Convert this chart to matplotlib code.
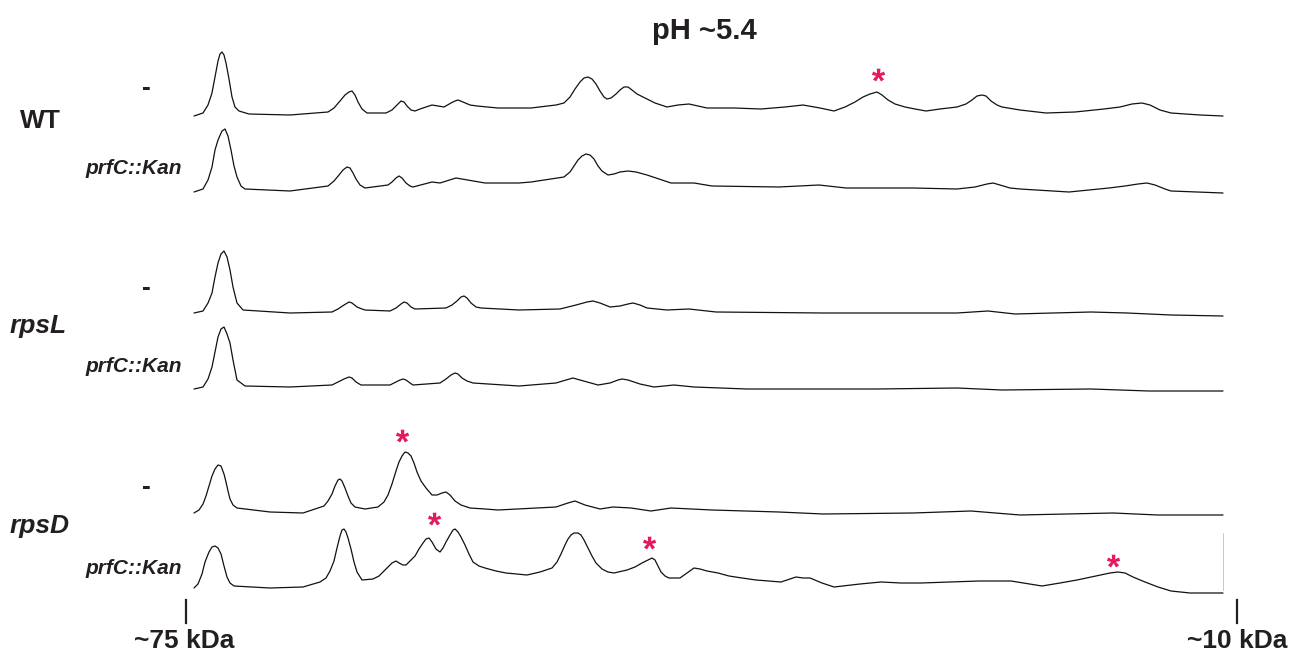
import numpy as np
import matplotlib; matplotlib.use("Agg")
import matplotlib.pyplot as plt
from matplotlib.textpath import TextPath
from matplotlib.font_manager import FontProperties
from matplotlib.path import Path

# densitometry traces: migration position (px along the lane) and band density
LANES = ["-", "prfC::Kan", "-", "prfC::Kan", "-", "prfC::Kan"]
STRAINS = ["WT", "rpsL", "rpsD"]

wt_x = [194, 203, 208, 212, 215, 218, 220, 222, 224, 226, 229, 232, 235, 239, 249, 290, 328, 334, 340, 345,
        349, 352, 355, 358, 362, 367, 386, 392, 397, 401, 404, 407, 411, 415, 420, 426, 432, 438, 444, 451,
        455, 458, 463, 470, 477, 498, 531, 556, 564, 570, 575, 580, 584, 588, 592, 596, 600, 604, 607, 611,
        616, 620, 624, 628, 632, 637, 645, 655, 667, 678, 689, 698, 707, 734, 761, 785, 803, 820, 834, 845,
        855, 863, 870, 877, 882, 888, 895, 905, 915, 926, 940, 957, 966, 972, 977, 982, 986, 991, 997, 1002,
        1020, 1046, 1075, 1104, 1120, 1132, 1142, 1150, 1160, 1171, 1200, 1223]
wt_d = [1, 4, 12, 24, 40, 56, 63, 65, 62, 54, 38, 20, 10, 6, 3, 2, 5, 9, 16, 22,
        25, 26, 22, 15, 8, 4, 4, 7, 12, 16, 15, 11, 7, 6, 8, 10, 12, 11, 10, 14,
        16, 17, 15, 12, 11, 9, 9, 12, 14, 20, 28, 35, 39, 40, 38, 33, 26, 20, 18, 19,
        23, 27, 30, 30, 27, 23, 19, 14, 10, 12, 13, 11, 9, 9, 8, 10, 12, 9, 6, 10,
        15, 20, 23, 25, 22, 17, 13, 10, 8, 6, 8, 10, 13, 17, 21, 22, 21, 16, 12, 10,
        7, 4, 5, 8, 10, 13, 14, 12, 7, 4, 2, 1]

wtk_x = [194, 203, 208, 212, 215, 218, 222, 225, 228, 231, 234, 237, 241, 245, 290, 328, 334, 339, 343, 347,
         350, 353, 356, 360, 365, 388, 392, 396, 399, 402, 406, 410, 413, 432, 440, 456, 485, 519, 531, 564,
         570, 574, 578, 582, 586, 590, 594, 598, 602, 608, 614, 620, 628, 636, 647, 671, 694, 712, 779, 819,
         846, 913, 957, 975, 987, 993, 1000, 1010, 1020, 1069, 1109, 1125, 1138, 1147, 1155, 1165, 1171, 1223]
wtk_d = [2, 5, 14, 27, 44, 54, 63, 65, 58, 44, 28, 17, 8, 5, 3, 8, 13, 19, 24, 27,
         26, 21, 15, 9, 6, 9, 12, 16, 18, 16, 11, 8, 7, 12, 11, 16, 11, 11, 12, 17,
         22, 28, 34, 38, 40, 39, 35, 28, 23, 19, 20, 22, 23, 22, 19, 11, 11, 8, 7, 9,
         6, 6, 5, 7, 10, 11, 9, 6, 5, 2, 6, 8, 10, 11, 9, 5, 3, 1]

rl_x = [194, 203, 208, 212, 215, 218, 221, 224, 227, 230, 233, 237, 243, 290, 332, 338, 344, 349, 352, 357,
        362, 365, 390, 396, 401, 404, 407, 411, 415, 446, 452, 457, 461, 464, 467, 471, 476, 481, 519, 560,
        576, 587, 593, 600, 610, 620, 628, 633, 640, 647, 667, 689, 716, 823, 957, 988, 1015, 1091, 1127,
        1171, 1223]
rl_d = [4, 6, 14, 24, 40, 54, 63, 66, 60, 47, 30, 14, 7, 4, 5, 8, 12, 15, 14, 10,
        8, 7, 6, 9, 13, 15, 14, 10, 8, 9, 12, 16, 20, 21, 19, 14, 10, 9, 7, 8,
        12, 15, 16, 14, 10, 11, 13, 14, 12, 9, 7, 8, 5, 4, 4, 6, 3, 5, 4,
        2, 1]

rlk_x = [194, 203, 208, 212, 215, 218, 221, 224, 227, 230, 233, 237, 245, 290, 332, 338, 344, 349, 352, 356,
         361, 390, 396, 400, 403, 406, 410, 413, 440, 446, 451, 455, 458, 462, 467, 473, 519, 556, 566, 573,
         580, 598, 610, 618, 622, 628, 640, 654, 674, 694, 747, 877, 957, 1002, 1091, 1149, 1223]
rlk_d = [3, 5, 13, 25, 40, 55, 63, 65, 58, 49, 32, 12, 6, 5, 7, 10, 13, 15, 14, 10,
         7, 7, 10, 12, 13, 12, 9, 7, 9, 13, 17, 19, 18, 14, 11, 9, 6, 9, 12, 14,
         12, 7, 9, 12, 13, 12, 8, 5, 7, 5, 3, 3, 4, 2, 3, 1, 1]

rd_x = [194, 199, 203, 206, 209, 212, 215, 218, 221, 224, 226, 228, 230, 233, 237, 270, 303, 324, 328, 332,
        335, 338, 340, 342, 345, 348, 351, 355, 365, 378, 384, 388, 392, 396, 399, 402, 405, 408, 411, 414,
        417, 421, 426, 432, 437, 442, 446, 450, 455, 461, 470, 485, 498, 556, 568, 575, 585, 600, 613, 631,
        651, 671, 712, 779, 823, 913, 971, 1020, 1113, 1158, 1223]
rd_d = [3, 6, 12, 20, 30, 40, 47, 51, 50, 42, 34, 25, 17, 11, 8, 4, 3, 10, 15, 22,
        30, 36, 37, 35, 28, 20, 13, 9, 7, 9, 14, 21, 32, 45, 54, 60, 64, 63, 60, 53,
        44, 35, 28, 21, 21, 23, 24, 21, 15, 11, 8, 7, 6, 9, 13, 15, 11, 7, 9, 8,
        5, 8, 6, 4, 2, 3, 5, 1, 3, 1, 1]

rdk_x = [194, 198, 202, 205, 209, 212, 215, 218, 221, 224, 227, 230, 234, 270, 303, 320, 326, 330, 334, 337,
         340, 342, 344, 346, 348, 351, 354, 357, 362, 373, 379, 384, 388, 392, 396, 399, 403, 406, 410, 415,
         419, 423, 426, 429, 432, 436, 440, 443, 446, 450, 453, 455, 458, 461, 465, 469, 473, 479, 485, 496,
         506, 516, 527, 540, 552, 557, 561, 565, 568, 571, 574, 578, 581, 584, 588, 592, 596, 602, 608, 614,
         627, 635, 642, 648, 652, 655, 658, 661, 665, 669, 680, 687, 694, 700, 707, 718, 729, 742, 756, 768,
         781, 796, 803, 810, 822, 834, 860, 881, 901, 921, 950, 979, 995, 1011, 1030, 1042, 1060, 1077, 1091,
         1100, 1110, 1118, 1125, 1133, 1145, 1158, 1171, 1190, 1223]
rdk_d = [6, 10, 20, 32, 42, 47, 48, 46, 40, 28, 17, 11, 8, 6, 7, 12, 16, 23, 33, 46,
         58, 64, 65, 62, 56, 45, 32, 22, 14, 15, 18, 23, 27, 31, 33, 31, 29, 29, 33, 38,
         45, 51, 55, 56, 52, 45, 42, 46, 52, 59, 64, 65, 62, 57, 49, 40, 32, 28, 26, 23,
         21, 20, 19, 22, 26, 32, 40, 49, 55, 59, 61, 61, 59, 54, 46, 38, 31, 25, 22, 21,
         24, 27, 31, 34, 36, 34, 28, 22, 18, 16, 16, 21, 26, 25, 23, 21, 18, 16, 14, 13,
         12, 17, 16, 16, 11, 7, 10, 12, 11, 11, 12, 13, 13, 13, 10, 8, 11, 14, 17,
         19, 21, 22, 21, 17, 12, 7, 3, 1, 1]

TRACES = [(wt_x, wt_d), (wtk_x, wtk_d), (rl_x, rl_d), (rlk_x, rlk_d), (rd_x, rd_d), (rdk_x, rdk_d)]

# bands marked with an asterisk: lane index, position, density level of the star
STAR_LANE = [0, 4, 5, 5, 5]
STAR_X = [878, 402, 434, 649, 1113]
STAR_D = [37, 75, 70, 46, 28]

# ---- layout -------------------------------------------------------------------
LANE_BASE = [117, 194, 317, 392, 516, 594]
STRAIN_Y = [121, 326, 526]
INK = "#231f20"
FONT = "Liberation Sans"

fig = plt.figure(figsize=(13, 6.56), dpi=100)
ax = fig.add_axes([0, 0, 1, 1])
ax.set_xlim(0, 1300); ax.set_ylim(656, 0); ax.axis("off")

for (x, d), base in zip(TRACES, LANE_BASE):
    ax.plot(x, base - np.asarray(d), color="#111111", lw=0.9,
            solid_joinstyle="round", solid_capstyle="round")

# faint end-of-lane mark on the last trace
ax.plot([1223, 1223], [533, 590], color="#c8c8c8", lw=0.7)

# asterisk marker from the font glyph, centred on its ink
tp = TextPath((0, 0), "*", prop=FontProperties(family=FONT, weight="bold"))
v = tp.vertices - (tp.vertices.min(0) + tp.vertices.max(0)) / 2
star = Path(v, tp.codes)
for ln, sx, sd in zip(STAR_LANE, STAR_X, STAR_D):
    ax.plot(sx, LANE_BASE[ln] - sd, marker=star, ms=17, color="#e5195e",
            mec="none", ls="none")

# labels
ax.text(652, 31, "pH ~5.4", ha="left", va="center", fontsize=21,
        fontweight="bold", family=FONT, color=INK)
for i, lab in enumerate(LANES):
    if lab == "-":
        ax.text(146, LANE_BASE[i] - 29, "-", ha="center", va="center", fontsize=19,
                fontweight="bold", family=FONT, color=INK)
    else:
        ax.text(182, LANE_BASE[i] - 26, lab, ha="right", va="center", fontsize=15,
                fontweight="bold", style="italic", family=FONT, color=INK)
for j, s in enumerate(STRAINS):
    ax.text(20 if j == 0 else 10, STRAIN_Y[j], s,
            ha="left", va="center", fontsize=19, fontweight="bold",
            style="normal" if j == 0 else "italic", family=FONT, color=INK)

# size markers
for mx, lab in [(186, "~75 kDa"), (1237, "~10 kDa")]:
    ax.plot([mx, mx], [600, 623], color=INK, lw=1.6)
    ax.text(mx - (2 if mx < 500 else 0), 641, lab, ha="center", va="center", fontsize=19,
            fontweight="bold", family=FONT, color=INK)

fig.savefig("out.png", dpi=100)
